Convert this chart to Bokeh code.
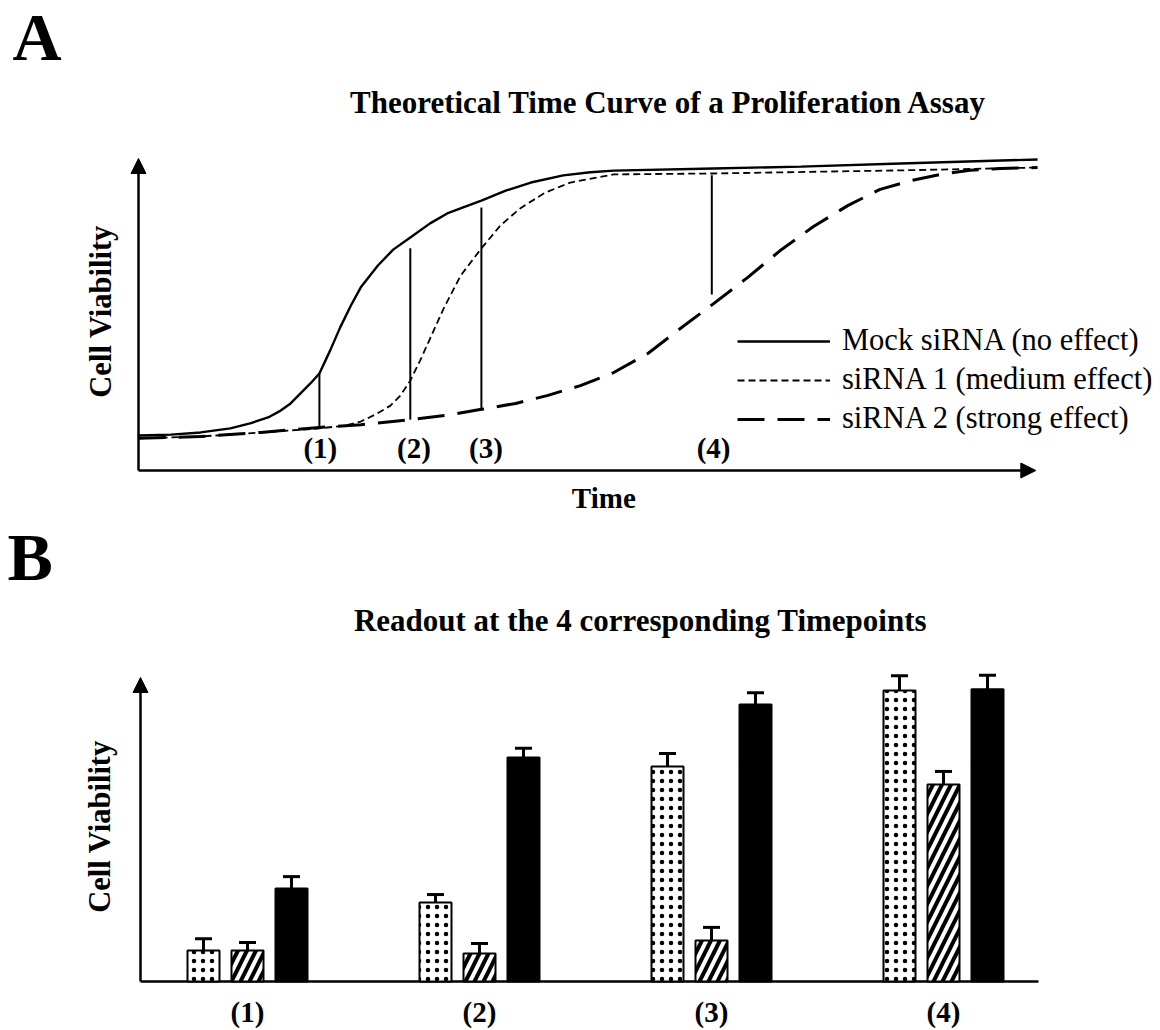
from bokeh.plotting import figure
from bokeh.models import (Range1d, Arrow, NormalHead, TeeHead, Whisker,
                          ColumnDataSource, Label, Legend, LegendItem)
from bokeh.layouts import column
from bokeh.embed import file_html
from bokeh.resources import INLINE
from bokeh.core.properties import value

# ---------------- Panel A data (time curves, arbitrary units 0-100) ----------------
mock_t = [0, 3.6, 6.9, 10.2, 12.4, 14.4, 15.8, 16.9, 18.0, 19.1, 20.1, 21.3, 22.4, 23.6,
          24.7, 26.6, 28.3, 30.2, 32.4, 34.3, 36.3, 38.1, 40.8, 43.6, 47.2, 50.2, 52.8,
          63.9, 73.6, 84.7, 99.9]
mock_v = [11.2, 11.5, 12.2, 13.5, 15.1, 17.0, 19.2, 21.5, 24.7, 27.9, 31.1, 38.5, 45.8, 52.9,
          58.7, 65.7, 70.8, 74.7, 79.2, 82.4, 84.6, 86.5, 89.7, 92.3, 94.6, 95.6, 96.1,
          96.8, 97.4, 98.4, 99.7]

sirna1_t = [0, 6.9, 13.6, 20.1, 23.0, 24.7, 26.3, 28.0, 29.1, 30.2, 31.3, 32.4, 33.9, 35.8,
            38.1, 40.2, 42.4, 45.2, 48.0, 52.8, 63.9, 84.7, 99.9]
sirna1_v = [10.3, 10.9, 12.2, 13.5, 14.4, 15.7, 17.9, 20.8, 24.0, 28.8, 35.3, 42.3, 51.9, 62.5,
            71.2, 78.5, 84.0, 89.1, 92.3, 94.9, 95.2, 96.2, 97.1]

sirna2_t = [0, 6.9, 13.6, 20.1, 24.7, 30.2, 34.7, 38.1, 41.9, 45.4, 49.1, 52.8, 56.6, 60.2,
            63.9, 67.7, 71.3, 75.0, 78.8, 82.4, 85.8, 89.1, 92.4, 95.8, 99.9]
sirna2_v = [10.3, 10.9, 12.2, 13.8, 14.7, 16.3, 17.9, 19.6, 21.5, 24.0, 27.2, 31.4, 37.5, 45.5,
            53.5, 61.9, 70.5, 78.2, 84.9, 90.1, 92.9, 94.9, 96.2, 96.8, 97.1]

series_names = ["Mock siRNA (no effect)", "siRNA 1 (medium effect)", "siRNA 2 (strong effect)"]

timepoint_labels = ["(1)", "(2)", "(3)", "(4)"]
marker_t = [20.1, 30.2, 38.1, 63.7]
marker_low = [13.8, 16.3, 19.6, 56.4]
marker_high = [31.1, 71.2, 84.3, 94.6]
label_t = [20.2, 30.6, 38.6, 63.9]

# ---------------- Panel B data (readout per timepoint) ----------------
groups = ["(1)", "(2)", "(3)", "(4)"]
group_x = [1, 2, 3, 4]
dotted_vals = [10.2, 26.0, 70.7, 95.7]
dotted_err = [3.9, 2.6, 4.3, 4.9]
hatched_vals = [10.2, 9.2, 13.5, 64.8]
hatched_err = [2.6, 3.3, 4.3, 4.3]
solid_vals = [30.6, 73.7, 91.1, 96.1]
solid_err = [3.9, 3.0, 3.9, 4.6]

# ---------------- layout constants ----------------
W = 1160
HA, HB = 515, 515
FONT = "Liberation Serif"

def lab(x, y, text, size, bold=True, angle=0.0, align="center"):
    return Label(x=x, y=y, text=text, text_font=FONT,
                 text_font_style="bold" if bold else "normal",
                 text_font_size=size, text_align=align, text_baseline="middle",
                 text_color="black", angle=angle)

# panel A mapping: t=0 at x=138 px, 9 px per unit; v=0 at y=470 px, 3.12 px per unit
ax0, axs = 138.0, 9.0
ay0, ays = 470.0, 3.12
pA = figure(width=W, height=HA, output_backend="svg", toolbar_location=None,
            x_range=Range1d(-ax0 / axs, (W - ax0) / axs),
            y_range=Range1d(-(HA - ay0) / ays, ay0 / ays),
            x_axis_type=None, y_axis_type=None, min_border=0,
            outline_line_color=None, background_fill_color="white",
            border_fill_color="white")

# axes with arrows
pA.add_layout(Arrow(end=NormalHead(size=15, fill_color="black", line_color="black", line_width=1),
                    x_start=0, y_start=0, x_end=0, y_end=100, line_width=2.5, line_color="black"))
pA.add_layout(Arrow(end=NormalHead(size=15, fill_color="black", line_color="black", line_width=1),
                    x_start=0, y_start=0, x_end=99.7, y_end=0, line_width=2.5, line_color="black"))

r_mock = pA.line(mock_t, mock_v, line_color="black", line_width=2.4)
r_s1 = pA.line(sirna1_t, sirna1_v, line_color="black", line_width=1.8, line_dash="7 4")
r_s2 = pA.line(sirna2_t, sirna2_v, line_color="black", line_width=3.0, line_dash="27 13")

pA.segment(x0=marker_t, y0=marker_low, x1=marker_t, y1=marker_high,
           line_color="black", line_width=2)
pA.text(x=label_t, y=[7.2] * 4, text=timepoint_labels, text_font=value(FONT),
        text_font_style="bold", text_font_size="29px", text_align="center",
        text_baseline="middle", text_color="black")

legend = Legend(items=[LegendItem(label=series_names[0], renderers=[r_mock]),
                       LegendItem(label=series_names[1], renderers=[r_s1]),
                       LegendItem(label=series_names[2], renderers=[r_s2])],
                location=(737, 94 - (530 - HA)), glyph_width=93, glyph_height=20,
                label_standoff=12, spacing=4, padding=0, margin=0, border_line_color=None,
                background_fill_alpha=0, label_text_font=FONT, label_text_font_size="30.5px",
                label_text_color="black")
pA.add_layout(legend)

pA.add_layout(lab(-14.0, 139.1, "A", "68px", align="left"))
pA.add_layout(lab(58.9, 118.1, "Theoretical Time Curve of a Proliferation Assay", "31px"))
pA.add_layout(lab(51.7, -8.8, "Time", "29px"))
pA.add_layout(lab(-4.2, 51.0, "Cell Viability", "30.5px", angle=1.5707963))

# panel B mapping: group 1 centre at x=247 px, 232 px per group; v=0 at page y=981 px
bx1, bxs = 247.0, 232.0
by0, bys = 981.0 - HA, 3.04
pB = figure(width=W, height=HB, output_backend="svg", toolbar_location=None,
            x_range=Range1d(1 - bx1 / bxs, 1 + (W - bx1) / bxs),
            y_range=Range1d(-(HB - by0) / bys, by0 / bys),
            x_axis_type=None, y_axis_type=None, min_border=0,
            outline_line_color=None, background_fill_color="white",
            border_fill_color="white")

x_axis_start = 1 + (140 - bx1) / bxs
x_axis_end = 1 + (1038 - bx1) / bxs
pB.add_layout(Arrow(end=NormalHead(size=15, fill_color="black", line_color="black", line_width=1),
                    x_start=x_axis_start, y_start=0, x_end=x_axis_start, y_end=100,
                    line_width=2.5, line_color="black"))
pB.segment(x0=[x_axis_start], y0=[0], x1=[x_axis_end], y1=[0], line_color="black",
           line_width=2.5)

bar_w = 32 / bxs
off = 44 / bxs

def bar_series(vals, errs, dx, **style):
    xs = [g + dx for g in group_x]
    pB.vbar(x=xs, top=vals, bottom=0, width=bar_w, line_color="black", line_width=2, **style)
    src = ColumnDataSource(dict(x=xs, lower=vals, upper=[v + e for v, e in zip(vals, errs)]))
    pB.add_layout(Whisker(source=src, base="x", lower="lower", upper="upper",
                          line_color="black", line_width=3, lower_head=None,
                          upper_head=TeeHead(size=17, line_color="black", line_width=3)))

bar_series(dotted_vals, dotted_err, -off, fill_color="white", hatch_pattern="dot",
           hatch_color="black", hatch_scale=9, hatch_weight=1.0)
bar_series(hatched_vals, hatched_err, 0, fill_color="white", hatch_pattern="right_diagonal_line",
           hatch_color="black", hatch_scale=18, hatch_weight=4)
bar_series(solid_vals, solid_err, off, fill_color="black")

pB.text(x=group_x, y=[-9.9] * 4, text=groups, text_font=value(FONT), text_font_style="bold",
        text_font_size="29px", text_align="center", text_baseline="middle",
        text_color="black")

pB.add_layout(lab(1 + (7 - bx1) / bxs, 139.5, "B", "68px", align="left"))
pB.add_layout(lab(2.694, 118.6, "Readout at the 4 corresponding Timepoints", "31px"))
pB.add_layout(lab(1 + (99 - bx1) / bxs, 51.0, "Cell Viability", "30.5px", angle=1.5707963))

layout = column(pA, pB, spacing=0)
open("out.html", "w").write(file_html(layout, INLINE))
